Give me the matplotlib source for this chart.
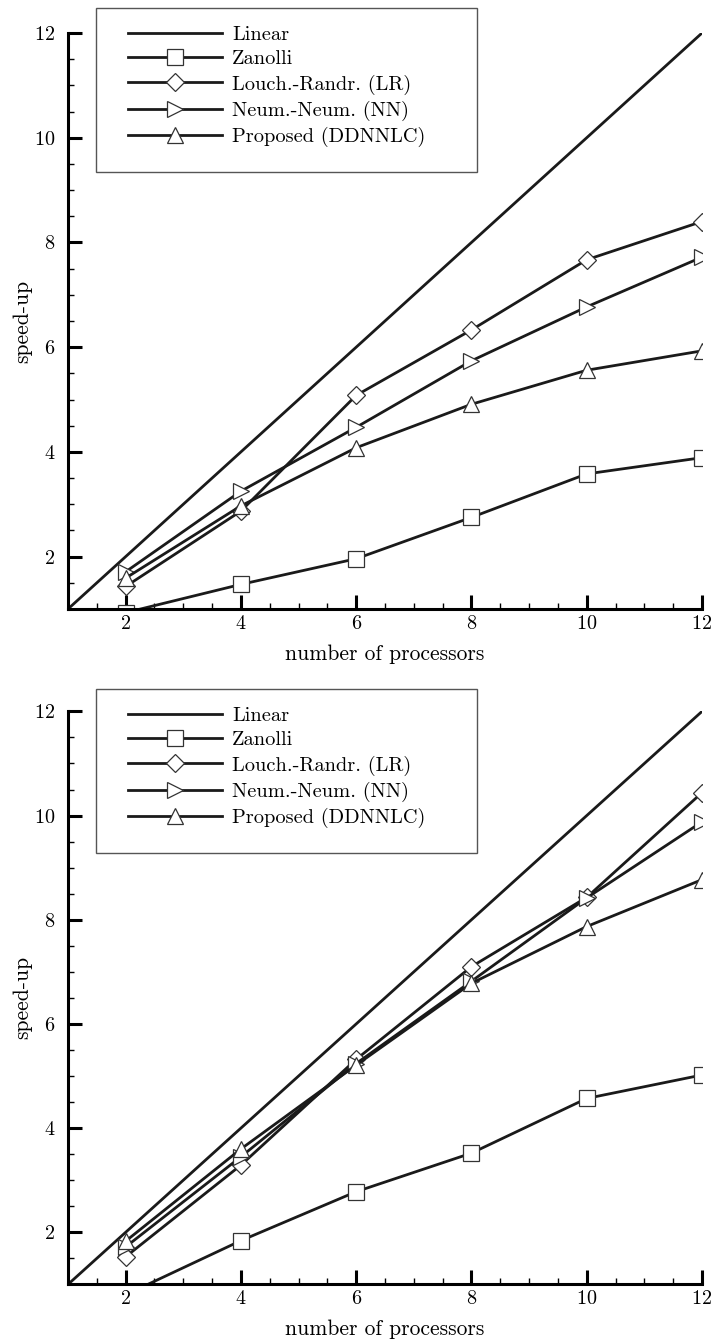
import matplotlib
matplotlib.use('Agg')
import matplotlib.pyplot as plt
from matplotlib.ticker import MultipleLocator
from matplotlib.patches import Rectangle

plt.rcParams['font.family'] = 'serif'
plt.rcParams['font.serif'] = ['cmr10']
plt.rcParams['axes.unicode_minus'] = False
plt.rcParams['axes.formatter.use_mathtext'] = True

procs = [2, 4, 6, 8, 10, 12]
linear_x = [1, 12]
linear_y = [1, 12]

# top panel
zanolli_a = [0.93, 1.47, 1.96, 2.75, 3.58, 3.89]
lr_a = [1.43, 2.87, 5.08, 6.33, 7.67, 8.40]
nn_a = [1.71, 3.25, 4.47, 5.74, 6.77, 7.72]
dd_a = [1.59, 2.97, 4.08, 4.91, 5.56, 5.93]

# bottom panel
zanolli_b = [0.80, 1.84, 2.78, 3.52, 4.57, 5.02]
lr_b = [1.53, 3.29, 5.32, 7.10, 8.43, 10.44]
nn_b = [1.72, 3.45, 5.24, 6.82, 8.42, 9.88]
dd_b = [1.83, 3.60, 5.21, 6.78, 7.87, 8.77]

labels = ['Linear', 'Zanolli', 'Louch.-Randr. (LR)', 'Neum.-Neum. (NN)', 'Proposed (DDNNLC)']
markers = ['s', 'D', '>', '^']
msizes = [11, 9.5, 12, 12]

lc = '#1a1a1a'
W, H = 712, 1340

fig = plt.figure(figsize=(7.12, 13.4), dpi=100)
ax1 = fig.add_axes([68/W, 1 - 609/H, 634/W, 576/H])
ax2 = fig.add_axes([68/W, 1 - 1284.4/H, 634/W, 573/H])

# legend box top in pixels for each panel
panels = [(ax1, [zanolli_a, lr_a, nn_a, dd_a], 8),
          (ax2, [zanolli_b, lr_b, nn_b, dd_b], 689)]

for ax, series, btop in panels:
    ax.plot(linear_x, linear_y, color=lc, lw=2.0, label=labels[0])
    for i in range(4):
        ax.plot(procs, series[i], color=lc, lw=2.0, marker=markers[i],
                ms=msizes[i], mfc='white', mec='#333333', mew=0.9,
                label=labels[i+1])
    ax.set_xlim(1, 12)
    ax.set_ylim(1, 12)
    ax.spines['top'].set_visible(False)
    ax.spines['right'].set_visible(False)
    ax.spines['left'].set_linewidth(2.2)
    ax.spines['bottom'].set_linewidth(2.2)
    ax.xaxis.set_major_locator(MultipleLocator(2))
    ax.yaxis.set_major_locator(MultipleLocator(2))
    ax.xaxis.set_minor_locator(MultipleLocator(0.5))
    ax.yaxis.set_minor_locator(MultipleLocator(0.5))
    ax.tick_params(which='major', direction='in', length=10, width=2.2, labelsize=14.5)
    ax.tick_params(which='minor', direction='in', length=4, width=1.0)
    ax.tick_params(axis='x', which='major', pad=4)
    ax.tick_params(axis='y', which='major', pad=9)
    ax.set_xlabel('number of processors', fontsize=15.5)
    ax.set_ylabel('speed-up', fontsize=15.5)
    ax.xaxis.set_label_coords(0.5, -0.062)
    ax.yaxis.set_label_coords(-0.057, 0.5)

    # legend without frame, box drawn separately
    leg = ax.legend(loc='center left', bbox_to_anchor=(128/W, 1 - (btop + 78.3)/H),
                    bbox_transform=fig.transFigure, fontsize=14.7,
                    handlelength=4.6, handletextpad=0.49, labelspacing=0.30,
                    borderpad=0, borderaxespad=0, frameon=False)
    leg.set_zorder(6)
    box = Rectangle((96/W, 1 - (btop + 164)/H), 381/W, 164/H,
                    transform=fig.transFigure, facecolor='white',
                    edgecolor='#555555', lw=1.0, zorder=5, clip_on=False)
    ax.add_patch(box)

fig.savefig('out.png', dpi=100)
